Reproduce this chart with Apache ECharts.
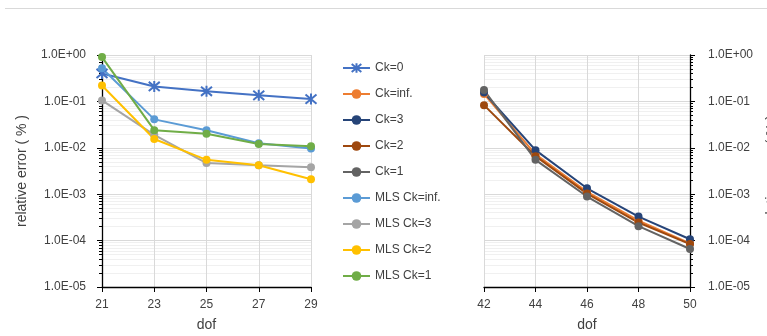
<!DOCTYPE html>
<html>
<head>
<meta charset="utf-8">
<script src="https://cdn.jsdelivr.net/npm/echarts@6/dist/echarts.min.js"></script>
<style>
html,body{margin:0;padding:0;background:#fff;}
#chart{width:767px;height:336px;}
</style>
</head>
<body>
<div id="chart"></div>
<script>
// ---- data ----
const leftCategories = ['21', '23', '25', '27', '29'];
const rightCategories = ['42', '44', '46', '48', '50'];

const ck0 = [0.40, 0.21, 0.165, 0.135, 0.112];
const mlsCkInf = [0.52, 0.041, 0.024, 0.0125, 0.0097];
const mlsCk3 = [0.105, 0.0190, 0.0047, 0.0042, 0.0038];
const mlsCk2 = [0.22, 0.0155, 0.0055, 0.0042, 0.0021];
const mlsCk1 = [0.90, 0.024, 0.0200, 0.0121, 0.0108];

const ckInf = [0.145, 0.0072, 0.00112, 0.00027, 0.000087];
const ck3 = [0.155, 0.0089, 0.00134, 0.00033, 0.000107];
const ck2 = [0.083, 0.0066, 0.00103, 0.000245, 0.000084];
const ck1 = [0.175, 0.0055, 0.00089, 0.000205, 0.000066];

const yTickLabels = {'0': '1.0E+00', '-1': '1.0E-01', '-2': '1.0E-02', '-3': '1.0E-03', '-4': '1.0E-04', '-5': '1.0E-05'};

// ---- styling helpers ----
const txt = '#404040';
const font = 'Liberation Sans, Arial, sans-serif';
function fmt(v) {
  const e = Math.round(Math.log10(v));
  return yTickLabels[String(e)] || '';
}
const starPath = 'path://M0,0L10,10M10,0L0,10M5,-1L5,11';

function yAxisCfg(gridIndex, pos) {
  return {
    type: 'log', logBase: 10, gridIndex: gridIndex, position: pos,
    min: 1e-5, max: 1, interval: 1,
    name: 'relative error ( % )', nameLocation: 'middle', nameGap: pos === 'left' ? 73 : 75,
    nameRotate: 90,
    nameTextStyle: {fontSize: 14, color: txt, fontFamily: font},
    axisLine: {show: true, onZero: false, lineStyle: {color: '#000', width: 1.3}},
    axisTick: {show: true, length: 5, lineStyle: {color: '#000'}},
    minorTick: {show: true, splitNumber: 9, length: 3, lineStyle: {color: '#000'}},
    axisLabel: {formatter: fmt, fontSize: 12, color: txt, fontFamily: font, margin: pos === 'left' ? 16 : 18},
    splitLine: {show: true, lineStyle: {color: '#D9D9D9', width: 1}},
    minorSplitLine: {show: true, lineStyle: {color: '#F0F0F0', width: 1}}
  };
}
function xAxisCfg(gridIndex, cats) {
  return {
    type: 'category', gridIndex: gridIndex, data: cats, boundaryGap: false,
    name: 'dof', nameLocation: 'middle', nameGap: 31,
    nameTextStyle: {fontSize: 14, color: txt, fontFamily: font},
    axisLine: {show: true, onZero: false, lineStyle: {color: '#000', width: 1.3}},
    axisTick: {show: true, length: 5, lineStyle: {color: '#000'}},
    axisLabel: {fontSize: 12, color: txt, fontFamily: font, margin: 12},
    splitLine: {show: true, lineStyle: {color: '#D9D9D9', width: 1}}
  };
}
function lineSeries(name, data, color, axisIdx, symbol, size) {
  return {
    name: name, type: 'line', data: data,
    xAxisIndex: axisIdx, yAxisIndex: axisIdx,
    symbol: symbol || 'circle', symbolSize: size || 8,
    lineStyle: {color: color, width: 2},
    itemStyle: symbol ? {color: color, borderColor: color, borderWidth: 2} : {color: color},
    emphasis: {disabled: true},
    animation: false
  };
}

const chart = echarts.init(document.getElementById('chart'), null, {renderer: 'canvas'});
chart.setOption({
  backgroundColor: '#fff',
  animation: false,
  graphic: [{
    type: 'line', shape: {x1: 5, y1: 8.5, x2: 767, y2: 8.5},
    style: {stroke: '#D9D9D9', lineWidth: 1}, silent: true
  }],
  grid: [
    {left: 102, top: 55, width: 209, height: 232, containLabel: false, outerBoundsMode: 'none'},
    {left: 484, top: 55, width: 206, height: 232, containLabel: false, outerBoundsMode: 'none'}
  ],
  xAxis: [xAxisCfg(0, leftCategories), xAxisCfg(1, rightCategories)],
  yAxis: [yAxisCfg(0, 'left'), yAxisCfg(1, 'right')],
  legend: {
    orient: 'vertical', left: 337, top: 57,
    itemWidth: 27, itemHeight: 12, itemGap: 14,
    textStyle: {fontSize: 12, color: txt, fontFamily: font},
    data: ['Ck=0', 'Ck=inf.', 'Ck=3', 'Ck=2', 'Ck=1', 'MLS Ck=inf.', 'MLS Ck=3', 'MLS Ck=2', 'MLS Ck=1']
  },
  series: [
    lineSeries('Ck=0', ck0, '#4472C4', 0, starPath, 11),
    lineSeries('Ck=inf.', ckInf, '#ED7D31', 1),
    lineSeries('Ck=3', ck3, '#264478', 1),
    lineSeries('Ck=2', ck2, '#9E480E', 1),
    lineSeries('Ck=1', ck1, '#636363', 1),
    lineSeries('MLS Ck=inf.', mlsCkInf, '#5B9BD5', 0),
    lineSeries('MLS Ck=3', mlsCk3, '#A5A5A5', 0),
    lineSeries('MLS Ck=2', mlsCk2, '#FFC000', 0),
    lineSeries('MLS Ck=1', mlsCk1, '#70AD47', 0)
  ]
});
</script>
</body>
</html>
